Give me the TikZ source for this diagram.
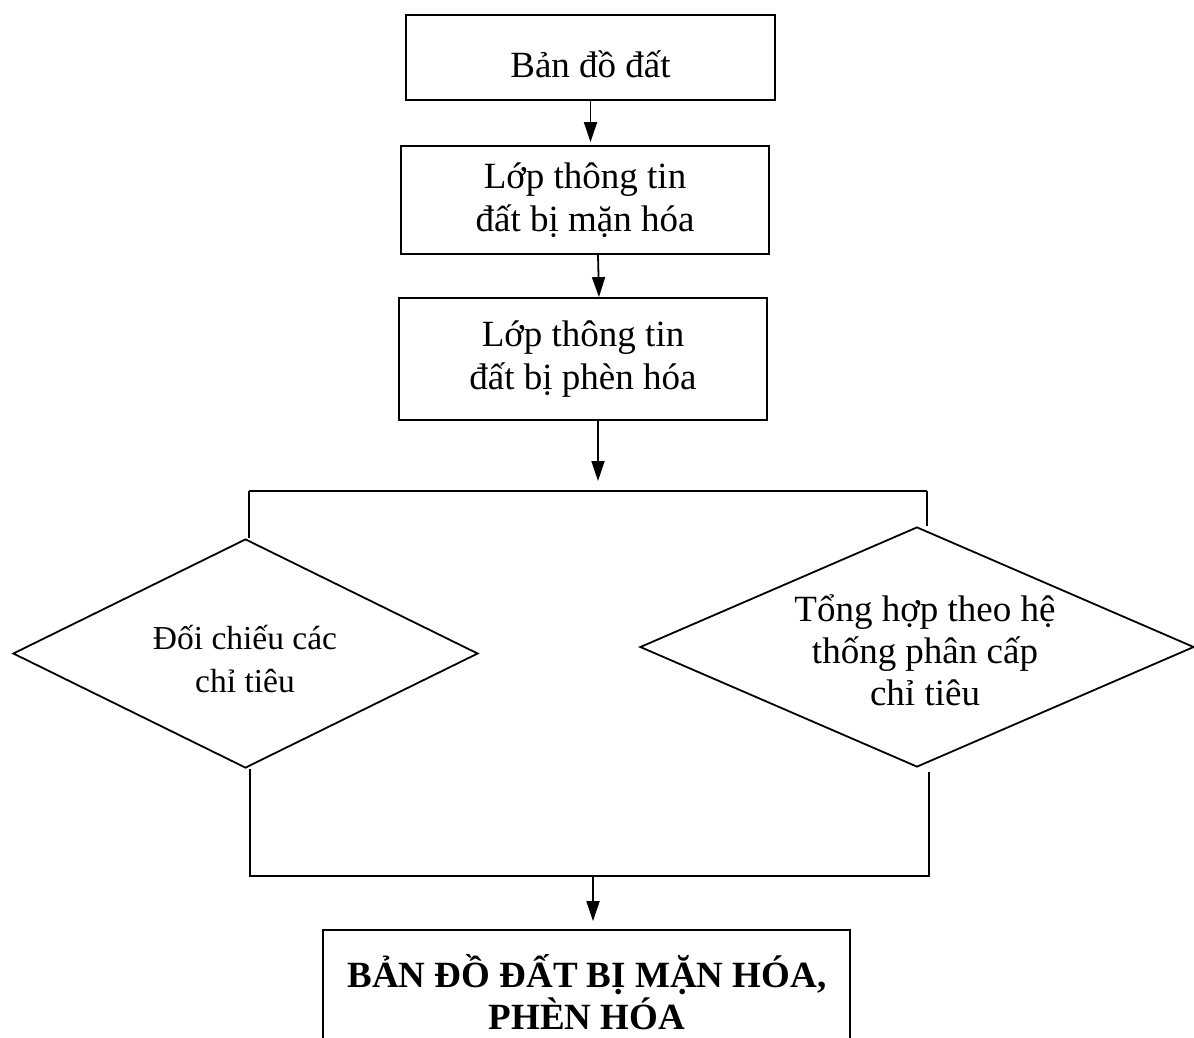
\documentclass[tikz,border=0pt]{standalone}
\usepackage{fontspec}
\setmainfont{Liberation Serif}
\usetikzlibrary{arrows.meta,shapes.geometric}
\tikzset{
  box/.style={draw,line width=1.8pt,rectangle,inner sep=0pt,align=center,
    font=\fontsize{37}{43}\selectfont},
  finalbox/.style={box,font=\fontsize{37}{43}\selectfont\bfseries},
  dia/.style={draw,line width=1.8pt,diamond,inner sep=0pt},
  diatext/.style={align=center,inner sep=0pt},
  conn/.style={line width=1.8pt},
  arr/.style={line width=1.8pt,-{Triangle[length=20pt,width=13pt]}}
}
\begin{document}
\begin{tikzpicture}[x=1pt,y=-1pt]
\useasboundingbox (0,0) rectangle (1194,1037);
\fill[white] (0,0) rectangle (1194,1037);
% boxes
\node[box,minimum width=369pt,minimum height=85pt,text height=40pt,text depth=0pt] (b1) at (590.5,57.5) {Bản đồ đất};
\node[box,minimum width=368pt,minimum height=108pt] (b2) at (585,200) {Lớp thông tin\\đất bị mặn hóa};
\node[box,minimum width=368pt,minimum height=122pt] (b3) at (583,359) {Lớp thông tin\\đất bị phèn hóa};
\node[finalbox,minimum width=527pt,minimum height=130pt] (fb) at (586.5,995) {};
\node[diatext,font=\fontsize{37}{43}\selectfont\bfseries,anchor=base] (fbt) at (587,987) {BẢN ĐỒ ĐẤT BỊ MẶN HÓA,};
\node[diatext,font=\fontsize{37}{43}\selectfont\bfseries,anchor=base] (fbt2) at (587,1029) {PHÈN HÓA};
% diamonds
\node[dia,minimum width=465pt,minimum height=229pt] (d1) at (245.5,653.5) {};
\node[dia,minimum width=554pt,minimum height=240pt] (d2) at (917,647) {};
\node[diatext,font=\fontsize{33.5}{43}\selectfont] (t1) at (245,659) {Đối chiếu các\\chỉ tiêu};
\node[diatext,font=\fontsize{37}{42}\selectfont] (t2) at (925,650) {Tổng hợp theo hệ\\thống phân cấp\\chỉ tiêu};
% junction coordinates
\coordinate (j1) at (598,481);
\coordinate (tl) at (249,491);
\coordinate (tr) at (927,491);
\coordinate (bl) at (250,876);
\coordinate (br) at (929,876);
\coordinate (m) at (593,876);
% connectors
\draw[arr] (b1.south) -- ([yshift=3pt]b1.south |- b2.north);
\draw[arr] ([xshift=13pt]b2.south) -- ([xshift=16pt]b3.north);
\draw[arr] (b3.south -| j1) -- (j1);
\draw[conn] (tl) -- (tr);
\draw[conn] (tl) -- (tl |- d1.north);
\draw[conn] (tr) -- (tr |- d2.north);
\draw[conn] (bl |- d1.south) -- (bl) -- (br) -- ([yshift=-4pt]br |- d2.south);
\draw[arr] (m) -- ([yshift=8pt]m |- fb.north);
\end{tikzpicture}
\end{document}
